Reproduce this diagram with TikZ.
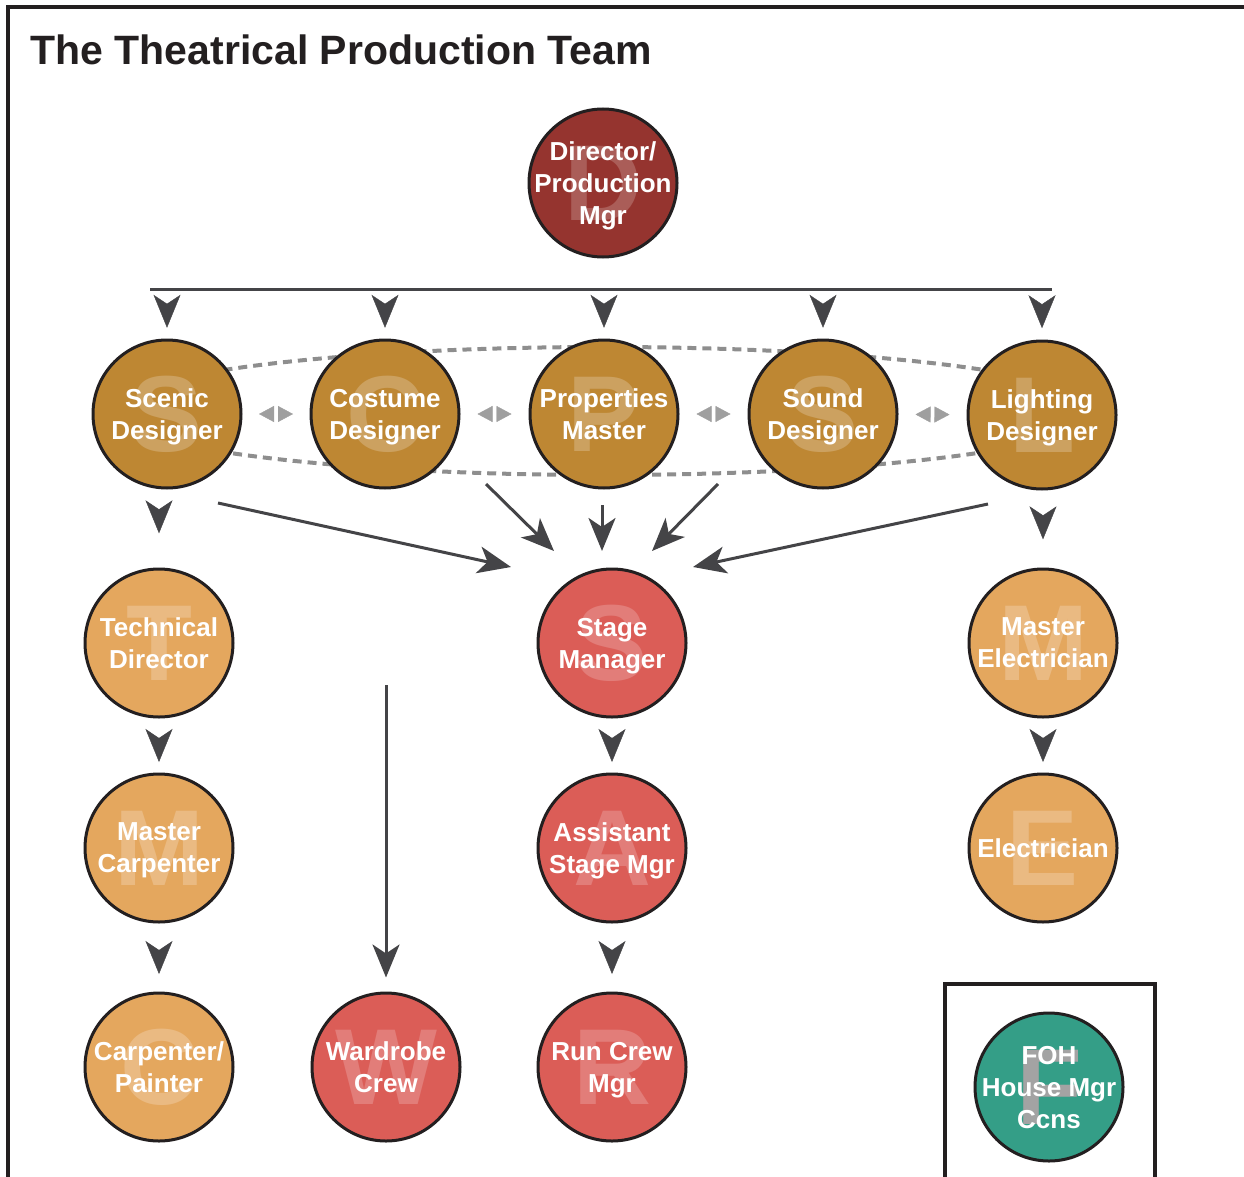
\documentclass[tikz,border=0pt]{standalone}
\usepackage{fontspec}
\setmainfont{Liberation Sans}
\usetikzlibrary{arrows.meta, decorations.markings, calc}
\definecolor{ink}{RGB}{35,31,32}
\definecolor{dirred}{RGB}{149,52,47}
\definecolor{ochre}{RGB}{190,135,51}
\definecolor{peach}{RGB}{228,167,94}
\definecolor{coral}{RGB}{219,93,87}
\definecolor{teal}{RGB}{52,158,135}
\definecolor{tipgray}{RGB}{68,68,71}
\definecolor{dashgray}{RGB}{142,142,142}
\definecolor{wmgray}{RGB}{163,163,163}

\tikzset{
	role/.style n args={3}{circle, draw=ink, line width=3pt, fill=#1, minimum size=148pt, inner sep=-16pt,
		align=center, text=white, text depth=0pt, font=\fontsize{26}{32}\selectfont\bfseries,
		path picture={\node[rectangle, draw=none, fill=none, inner sep=0pt, minimum size=0pt, text depth=,
			text=#3, font=\fontsize{108}{108}\selectfont\bfseries] at (path picture bounding box.center) {#2};}},
	feed/.style={draw=tipgray, line width=3pt, -{Stealth[length=33pt, width=27pt, inset=9pt]}},
	midtip/.style={color=tipgray, decoration={markings, mark=at position #1 with
		{\pgftransformxshift{16.5pt}\arrow{Stealth[length=33pt, width=27pt, inset=9pt]}}}, postaction={decorate}},
	midtip/.default=0.5,
	twoway/.style={color=dashgray!85!white, decoration={markings, mark=at position 0.5 with
		{\pgftransformxshift{17pt}\arrow{Triangle[length=15pt, width=16pt]}%
		 \pgftransformxshift{-34pt}\arrowreversed{Triangle[length=15pt, width=16pt]}}}, postaction={decorate}}
}

\begin{document}
\begin{tikzpicture}[x=1pt, y=-1pt]
	\useasboundingbox (0,0) rectangle (1244,1177);
	\draw[ink, line width=3.5pt] (8,1177) -- (8,7) -- (1244,7);
	\node[anchor=base west, text=ink, font=\fontsize{41}{41}\selectfont\bfseries] (title) at (27,65) {The Theatrical Production Team};

	% designers share one loop
	\draw[dashgray, line width=4pt, dash pattern=on 9pt off 6pt] (604,411) ellipse [x radius=495, y radius=64];

	\node[role={dirred}{D}{dirred!80!white}] (dir) at (603,183) {Director/\\Production\\Mgr};

	\node[role={ochre}{S}{ochre!78!white}] (scenic) at (167,414) {Scenic\\Designer};
	\node[role={ochre}{C}{ochre!78!white}] (costume) at (385,414) {Costume\\Designer};
	\node[role={ochre}{P}{ochre!78!white}] (props) at (604,414) {Properties\\Master};
	\node[role={ochre}{S}{ochre!78!white}] (sound) at (823,414) {Sound\\Designer};
	\node[role={ochre}{L}{ochre!78!white}] (lighting) at (1042,415) {Lighting\\Designer};

	\node[role={peach}{T}{peach!78!white}] (techdir) at (159,643) {Technical\\Director};
	\node[role={coral}{S}{coral!80!white}] (stagemgr) at (612,643) {Stage\\Manager};
	\node[role={peach}{M}{peach!78!white}] (mastelec) at (1043,643) {Master\\Electrician};

	\node[role={peach}{M}{peach!78!white}] (mastcarp) at (159,848) {Master\\Carpenter};
	\node[role={coral}{A}{coral!80!white}] (asm) at (612,848) {Assistant\\Stage Mgr};
	\node[role={peach}{E}{peach!78!white}] (elec) at (1043,848) {Electrician};

	\node[role={peach}{C}{peach!78!white}] (carppaint) at (159,1067) {Carpenter/\\Painter};
	\node[role={coral}{W}{coral!80!white}] (wardrobe) at (386,1067) {Wardrobe\\Crew};
	\node[role={coral}{R}{coral!80!white}] (runcrew) at (612,1067) {Run Crew\\Mgr};

	\draw[ink, line width=4pt] (945,1177) -- (945,984) -- (1155,984) -- (1155,1177);
	\node[role={teal}{F}{wmgray}] (foh) at (1049,1087) {FOH\\House Mgr\\Ccns};

	% director bar
	\coordinate (barL) at (150,289);
	\coordinate (barR) at (1052,289);
	\draw[tipgray, line width=3pt] (barL) -- (barR);
	\foreach \n in {scenic,costume,props,sound,lighting}
		\path[midtip=0.45] (\n |- barL) -- (\n.north);

	\path[twoway] (scenic) -- (costume);
	\path[twoway] (costume) -- (props);
	\path[twoway] (props) -- (sound);
	\path[twoway] (sound) -- (lighting);

	% into the stage manager
	\draw[feed] ([shift={(51,89)}]scenic.center) -- ([shift={(-101,-76)}]stagemgr.center);
	\draw[feed] ([shift={(101,70)}]costume.center) -- ([shift={(-58,-92)}]stagemgr.center);
	\draw[feed] ([shift={(-2,91)}]props.center) -- ([shift={(-10,-92)}]stagemgr.center);
	\draw[feed] ([shift={(-105,70)}]sound.center) -- ([shift={(40,-92)}]stagemgr.center);
	\draw[feed] ([shift={(-54,89)}]lighting.center) -- ([shift={(81,-76)}]stagemgr.center);

	\path[midtip=0.35] (scenic.south -| techdir) -- (techdir.north);
	\path[midtip] (techdir) -- (mastcarp);
	\path[midtip] (mastcarp) -- (carppaint);
	\path[midtip] (stagemgr) -- (asm);
	\path[midtip] (asm) -- (runcrew);
	\path[midtip=0.42] (lighting.south -| mastelec) -- (mastelec.north);
	\path[midtip] (mastelec) -- (elec);

	\coordinate (wardtop) at (386,685);
	\draw[feed, shorten >=14pt] (wardtop) -- (wardrobe);
\end{tikzpicture}
\end{document}
